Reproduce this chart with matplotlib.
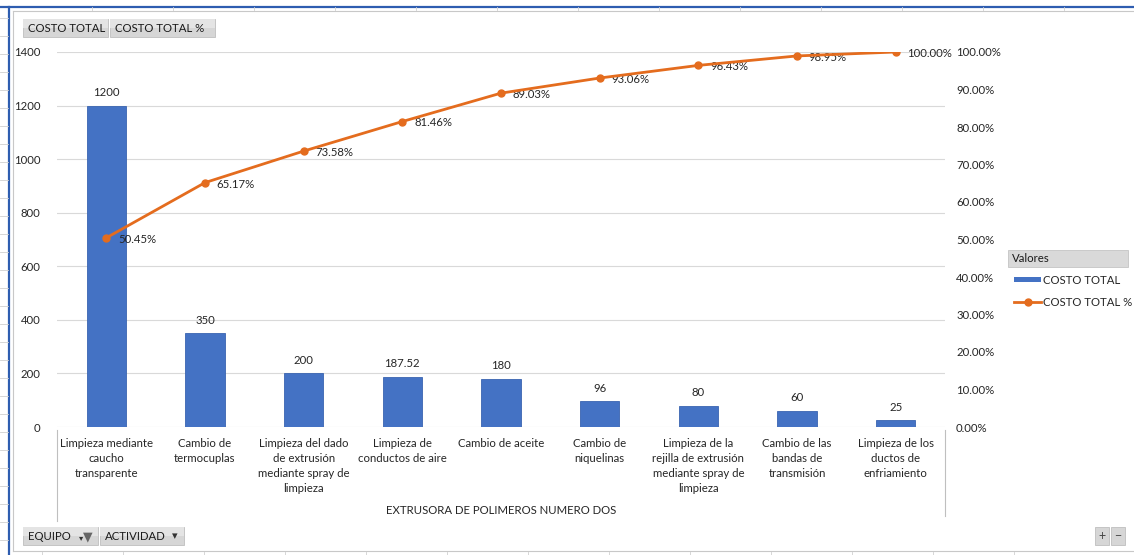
import matplotlib
matplotlib.use("Agg")
import matplotlib.pyplot as plt
from matplotlib.patches import Rectangle
from matplotlib.lines import Line2D
import numpy as np

plt.rcParams['font.family'] = ['Lato', 'DejaVu Sans']

# Pareto data: activity, total cost, cumulative percentage
categories = [
    "Limpieza mediante\ncaucho\ntransparente",
    "Cambio de\ntermocuplas",
    "Limpieza del dado\nde extrusión\nmediante spray de\nlimpieza",
    "Limpieza de\nconductos de aire",
    "Cambio de aceite",
    "Cambio de\nniquelinas",
    "Limpieza de la\nrejilla de extrusión\nmediante spray de\nlimpieza",
    "Cambio de las\nbandas de\ntransmisión",
    "Limpieza de los\nductos de\nenfriamiento",
]
costo_total = [1200, 350, 200, 187.52, 180, 96, 80, 60, 25]
costo_pct = [50.45, 65.17, 73.58, 81.46, 89.03, 93.06, 96.43, 98.95, 100.00]
left_ticks = [0, 200, 400, 600, 800, 1000, 1200, 1400]
right_ticks = [0, 10, 20, 30, 40, 50, 60, 70, 80, 90, 100]
group_label = "EXTRUSORA DE POLIMEROS NUMERO DOS"

W, H = 1134, 555
BLUE = "#4472C4"
ORANGE = "#E46C1E"
GRID = "#D9D9D9"
TXT = "#262626"
FS = 8.2

fig = plt.figure(figsize=(W / 100, H / 100), dpi=100)


def fx(x):
    return x / W


def fy(y):
    return 1 - y / H


# Sheet decoration around the chart object
fig.add_artist(Line2D([0, 1], [fy(7), fy(7)], color="#2E5DB0", lw=1.6))
fig.add_artist(Line2D([fx(9), fx(9)], [fy(7), 0], color="#2E5DB0", lw=1.6))
fig.add_artist(Line2D([fx(13), 1], [fy(11), fy(11)], color="#C8C8C8", lw=0.8))
fig.add_artist(Line2D([fx(13), fx(13)], [fy(11), fy(551)], color="#C8C8C8", lw=0.8))
fig.add_artist(Line2D([fx(13), 1], [fy(551), fy(551)], color="#C8C8C8", lw=0.8))
for xc in range(92, W, 81):
    fig.add_artist(Line2D([fx(xc), fx(xc)], [fy(7), fy(10)], color="#D0D0D0", lw=0.6))
    fig.add_artist(Line2D([fx(xc - 50), fx(xc - 50)], [fy(552), 0], color="#D0D0D0", lw=0.6))
for yr in range(18, H, 18):
    fig.add_artist(Line2D([0, fx(8)], [fy(yr), fy(yr)], color="#D0D0D0", lw=0.6))

# Main axes
ax = fig.add_axes([fx(57), fy(427), fx(945) - fx(57), fy(52) - fy(427)])
x = np.arange(len(categories))
bars = ax.bar(x, costo_total, width=0.4, color=BLUE, edgecolor="#3A64B0", linewidth=0.6, zorder=3)
ax.set_xlim(-0.5, len(categories) - 0.5)
ax.set_ylim(0, 1400)
ax.set_yticks(left_ticks)
ax.set_yticklabels([str(t) for t in left_ticks], fontsize=FS, color=TXT)
ax.tick_params(axis="y", length=0, pad=12)
ax.set_xticks([])
ax.grid(axis="y", color=GRID, lw=0.8, zorder=0)
for s in ax.spines.values():
    s.set_visible(False)

for xi, v in zip(x, costo_total):
    lab = f"{v:g}"
    ax.annotate(lab, (xi, v), xytext=(0, 9.5), textcoords="offset points",
                ha="center", va="center", fontsize=FS, color=TXT)

# Cumulative percentage on the secondary axis
ax2 = ax.twinx()
ax2.set_ylim(0, 100)
ax2.plot(x, costo_pct, color=ORANGE, lw=2, marker="o", markersize=5, zorder=4)
ax2.set_yticks(right_ticks)
ax2.set_yticklabels([f"{t:.2f}%" for t in right_ticks], fontsize=FS, color=TXT)
ax2.tick_params(axis="y", length=0, pad=8)
for s in ax2.spines.values():
    s.set_visible(False)
for xi, v in zip(x, costo_pct):
    ax2.annotate(f"{v:.2f}%", (xi, v), xytext=(8.5, -1), textcoords="offset points",
                 ha="left", va="center", fontsize=FS, color=TXT)

# Category labels below the plot
for xi, lab in zip(x, categories):
    ax.annotate(lab, (xi, 0), xytext=(0, -8), textcoords="offset points",
                ha="center", va="top", fontsize=FS, color=TXT, linespacing=1.45,
                annotation_clip=False)
fig.add_artist(Line2D([fx(57), fx(57)], [fy(430), fy(521)], color="#BFBFBF", lw=0.8))
fig.add_artist(Line2D([fx(945), fx(945)], [fy(430), fy(516)], color="#BFBFBF", lw=0.8))
fig.text(fx(501), fy(511), group_label, ha="center", va="center", fontsize=FS, color=TXT)


# Pivot field buttons
def button(x0, y0, x1, y1, label):
    fig.add_artist(Rectangle((fx(x0), fy(y1)), fx(x1) - fx(x0), fy(y0) - fy(y1),
                             facecolor="#D6D6D6", edgecolor="#BEBEBE", lw=0.6))
    fig.add_artist(Rectangle((fx(x0), fy((y0 + y1) / 2)), fx(x1) - fx(x0), fy(y0) - fy((y0 + y1) / 2),
                             facecolor="#E4E4E4", edgecolor="none"))
    fig.text(fx(x0 + 5), fy((y0 + y1) / 2 + 0.5), label, ha="left", va="center",
             fontsize=FS, color="#1A1A1A")


button(23, 19, 108, 37, "COSTO TOTAL")
button(110, 19, 215, 37, "COSTO TOTAL %")
button(23, 527, 98, 545, "EQUIPO")
button(100, 527, 184, 545, "ACTIVIDAD")
fig.text(fx(81), fy(538), "▾", ha="center", va="center", fontsize=6, color="#333333")
fig.text(fx(88), fy(536), "▼", ha="center", va="center", fontsize=9, color="#666666")
fig.text(fx(175), fy(536), "▾", ha="center", va="center", fontsize=8, color="#333333")
fig.add_artist(Rectangle((fx(1095), fy(545)), fx(14), fy(527) - fy(545),
                         facecolor="#D6D6D6", edgecolor="#BEBEBE", lw=0.6))
fig.add_artist(Rectangle((fx(1111), fy(545)), fx(14), fy(527) - fy(545),
                         facecolor="#D6D6D6", edgecolor="#BEBEBE", lw=0.6))
fig.text(fx(1102), fy(536), "+", ha="center", va="center", fontsize=9, color="#444444")
fig.text(fx(1118), fy(536), "−", ha="center", va="center", fontsize=9, color="#444444")

# Legend
fig.add_artist(Rectangle((fx(1008), fy(267)), fx(1128) - fx(1008), fy(250) - fy(267),
                         facecolor="#D9D9D9", edgecolor="#C4C4C4", lw=0.6))
fig.text(fx(1012), fy(259), "Valores", ha="left", va="center", fontsize=FS, color="#1A1A1A")
fig.add_artist(Rectangle((fx(1014), fy(282)), fx(27), fy(277) - fy(282),
                         facecolor=BLUE, edgecolor="none"))
fig.text(fx(1043), fy(280), "COSTO TOTAL", ha="left", va="center", fontsize=FS, color=TXT)
fig.add_artist(Line2D([fx(1014), fx(1041)], [fy(302), fy(302)], color=ORANGE, lw=2))
fig.add_artist(Line2D([fx(1027.5)], [fy(302)], color=ORANGE, marker="o", markersize=5, lw=0))
fig.text(fx(1043), fy(302), "COSTO TOTAL %", ha="left", va="center", fontsize=FS, color=TXT)

fig.savefig("out.png", dpi=100)
